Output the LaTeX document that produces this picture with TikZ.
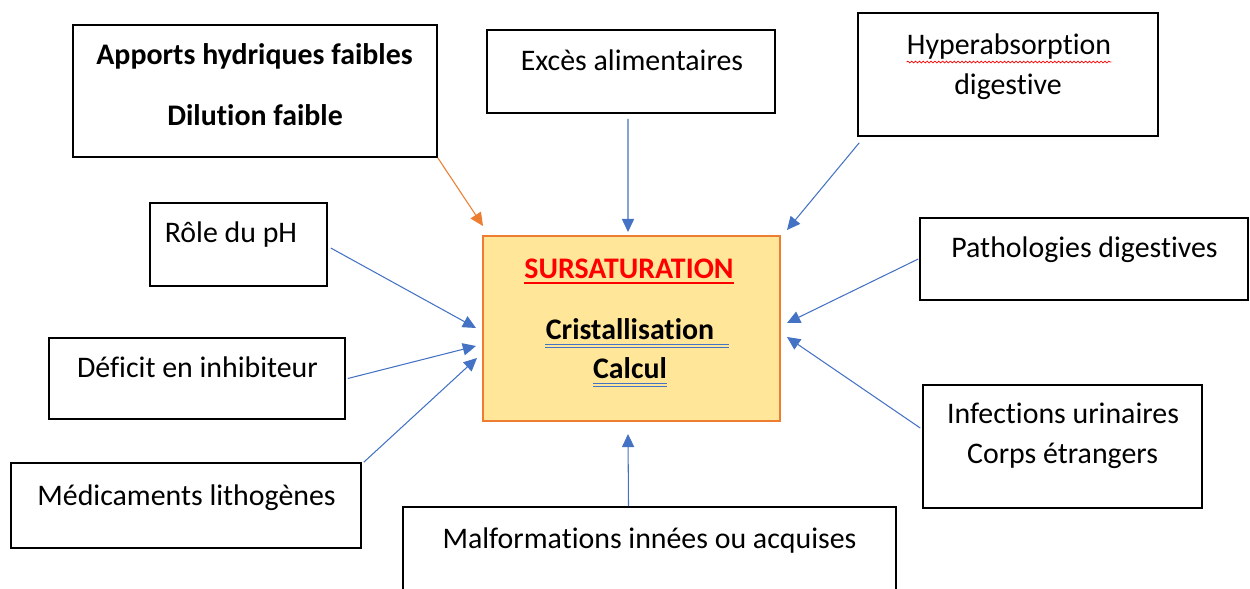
\documentclass[tikz,border=0pt]{standalone}
\usepackage{fontspec}
\setmainfont{Carlito}[Ligatures=NoCommon]
\usetikzlibrary{arrows.meta,decorations.pathmorphing}

\definecolor{arrblue}{HTML}{4472C4}
\definecolor{accorange}{HTML}{ED7D31}
\definecolor{paleyellow}{HTML}{FFE699}

\begin{document}
\begin{tikzpicture}[x=0.02cm,y=-0.02cm,>={Triangle[length=7.5pt,width=7pt]},
  box/.style={draw, line width=0.9pt, inner sep=0pt},
  lbl/.style={anchor=base, inner sep=0pt, font=\fontsize{17}{20}\selectfont},
  lblb/.style={anchor=base, inner sep=0pt, font=\fontsize{17}{20}\selectfont\bfseries},
  link/.style={->, draw=arrblue, line width=0.6pt}]
\clip (0,0) rectangle (1250,588);

% outer boxes
\node[box, minimum width=7.28cm, minimum height=2.64cm] (apports) at (255,91) {};
\node[box, minimum width=5.76cm, minimum height=1.66cm] (exces) at (631,71.5) {};
\node[box, minimum width=6.00cm, minimum height=2.46cm] (hyper) at (1008,74.5) {};
\node[box, minimum width=3.54cm, minimum height=1.66cm] (role) at (238.5,244.5) {};
\node[box, minimum width=6.56cm, minimum height=1.64cm] (patho) at (1084,259) {};
\node[box, minimum width=5.92cm, minimum height=1.62cm] (deficit) at (197,378.5) {};
\node[box, minimum width=5.58cm, minimum height=2.46cm] (infect) at (1062.5,446.5) {};
\node[box, minimum width=7.00cm, minimum height=1.70cm] (medic) at (186,505.5) {};
\node[box, minimum width=9.86cm, minimum height=1.92cm] (malfo) at (649.5,555) {};

% central box
\node[box, draw=accorange, fill=paleyellow, line width=1.2pt,
  minimum width=5.94cm, minimum height=3.70cm] (sursat) at (631.5,328.5) {};

% texts
\node[lblb] (apports1) at (254.5,65) {Apports hydriques faibles};
\node[lblb] (apports2) at (255,126) {Dilution faible};
\node[lbl] (exces1) at (632,71) {Excès alimentaires};
\node[lbl] (hyper1) at (1009,55) {Hyperabsorption};
\node[lbl] (hyper2) at (1008,94) {digestive};
\node[lbl] (role1) at (231,242) {Rôle du pH};
\node[lbl] (patho1) at (1084.5,257) {Pathologies digestives};
\node[lbl] (deficit1) at (197.5,377) {Déficit en inhibiteur};
\node[lbl] (infect1) at (1063,423) {Infections urinaires};
\node[lbl] (infect2) at (1062.5,463) {Corps étrangers};
\node[lbl] (medic1) at (186.5,505) {Médicaments lithogènes};
\node[lbl] (malfo1) at (649.5,548) {Malformations innées ou acquises};
\node[lblb, text=red] (sursat1) at (629,278) {SURSATURATION};
\node[lblb] (sursat2) at (630,339) {Cristallisation};
\node[lblb] (sursat3) at (630,378) {Calcul};

% underlines
\draw[red, line width=1.1pt] ([yshift=-3pt]sursat1.base west) -- ([yshift=-3pt]sursat1.base east);
\draw[arrblue, line width=0.45pt] ([yshift=-3pt]sursat2.base west) -- ([yshift=-3pt,xshift=0.28cm]sursat2.base east);
\draw[arrblue, line width=0.45pt] ([yshift=-4.6pt]sursat2.base west) -- ([yshift=-4.6pt,xshift=0.28cm]sursat2.base east);
\draw[arrblue, line width=0.45pt] ([yshift=-3pt]sursat3.base west) -- ([yshift=-3pt]sursat3.base east);
\draw[arrblue, line width=0.45pt] ([yshift=-4.6pt]sursat3.base west) -- ([yshift=-4.6pt]sursat3.base east);
\draw[red, line width=0.4pt, decorate, decoration={snake, amplitude=0.5pt, segment length=2.2pt}]
  ([yshift=-4pt]hyper1.base west) -- ([yshift=-4pt]hyper1.base east);

% arrow tips around the centre
\coordinate (tipapp) at (483,226);
\coordinate (tipexc) at (628,232);
\coordinate (tiphyp) at (787,230);
\coordinate (tiprol) at (476,328);
\coordinate (tipdef) at (476,346);
\coordinate (tipmed) at (477,358);
\coordinate (tippat) at (787,323);
\coordinate (tipinf) at (787,337);
\coordinate (tipmal) at (628,434);

% arrows
\draw[link, draw=accorange] (apports.south east) -- (tipapp);
\draw[link] ([xshift=-0.06cm,yshift=-0.1cm]exces.south) -- (tipexc);
\draw[link] ([shift={(0.04cm,-0.12cm)}]hyper.south west) -- (tiphyp);
\draw[link] ([shift={(0.06cm,-0.07cm)}]role.east) -- (tiprol);
\draw[link] ([xshift=0.04cm]deficit.east) -- (tipdef);
\draw[link] ([xshift=0.04cm]medic.north east) -- (tipmed);
\draw[link] ([xshift=-0.02cm]patho.west) -- (tippat);
\draw[link] ([shift={(-0.04cm,0.37cm)}]infect.west) -- (tipinf);
\draw[link] ([xshift=-0.42cm]malfo.north) -- (tipmal);
\end{tikzpicture}
\end{document}
